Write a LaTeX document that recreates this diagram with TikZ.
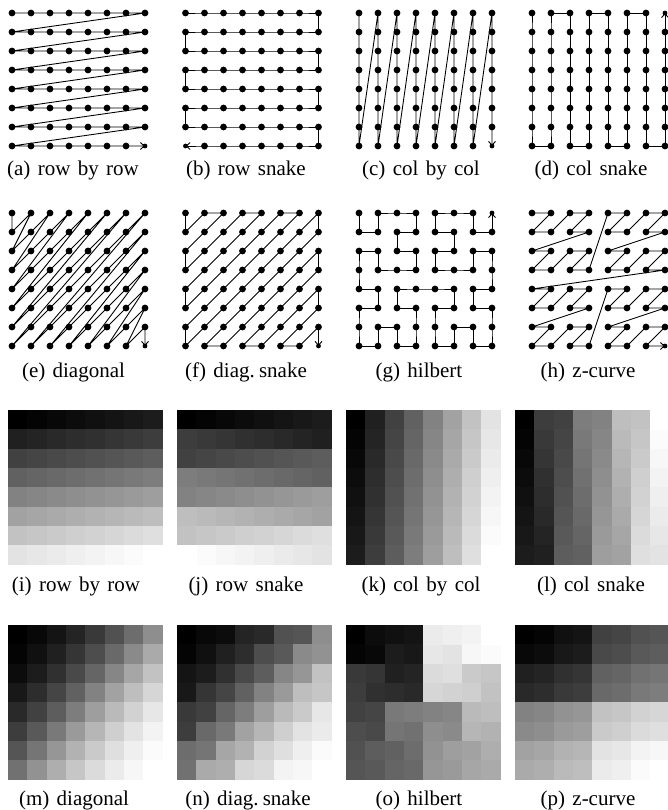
\documentclass[tikz,border=0pt]{standalone}
\usepackage{fontspec}
\setmainfont{Liberation Serif}
\newfontfamily\capfont[WordSpace=1.4]{Liberation Serif}
\usepackage{tikz}
\usetikzlibrary{arrows.meta}
% position of cell number \n in each ordering -> \cx, \cy
\newcommand{\posrow}{\pgfmathtruncatemacro\cx{mod(\n,8)}\pgfmathtruncatemacro\cy{\n/8}}
\newcommand{\posrowsnake}{\pgfmathtruncatemacro\cy{\n/8}%
  \pgfmathtruncatemacro\cx{(mod(\cy,2)==0) ? mod(\n,8) : 7-mod(\n,8)}}
\newcommand{\poscol}{\pgfmathtruncatemacro\cy{mod(\n,8)}\pgfmathtruncatemacro\cx{\n/8}}
\newcommand{\poscolsnake}{\pgfmathtruncatemacro\cx{\n/8}%
  \pgfmathtruncatemacro\cy{(mod(\cx,2)==0) ? mod(\n,8) : 7-mod(\n,8)}}
\newcommand{\diagkp}{% second half is the first one turned round
  \pgfmathtruncatemacro\diage{(\n<36) ? \n : 63-\n}%
  \pgfmathtruncatemacro\diagk{(sqrt(8*\diage+1)-1)/2+0.01}%
  \pgfmathtruncatemacro\diagp{\diage-\diagk*(\diagk+1)/2}}
\newcommand{\posdiag}{\diagkp
  \pgfmathtruncatemacro\cx{(\n<36) ? \diagp : 7-\diagp}%
  \pgfmathtruncatemacro\cy{(\n<36) ? \diagk-\diagp : 7-\diagk+\diagp}}
\newcommand{\posdiagsnake}{\diagkp
  \pgfmathtruncatemacro\sx{(mod(\diagk,2)==1) ? \diagp : \diagk-\diagp}%
  \pgfmathtruncatemacro\sy{\diagk-\sx}%
  \pgfmathtruncatemacro\cx{(\n<36) ? \sx : 7-\sx}%
  \pgfmathtruncatemacro\cy{(\n<36) ? \sy : 7-\sy}}
\def\hilbx{{0,0,1,1,2,3,3,2,2,3,3,2,1,1,0,0,
  0,1,1,0,0,0,1,1,2,2,3,3,3,2,2,3,
  4,5,5,4,4,4,5,5,6,6,7,7,7,6,6,7,
  7,7,6,6,5,4,4,5,5,4,4,5,6,6,7,7}}
\def\hilby{{0,1,1,0,0,0,1,1,2,2,3,3,3,2,2,3,
  4,4,5,5,6,7,7,6,6,7,7,6,5,5,4,4,
  4,4,5,5,6,7,7,6,6,7,7,6,5,5,4,4,
  3,2,2,3,3,3,2,2,1,1,0,0,0,1,1,0}}
\newcommand{\poshilbert}{\pgfmathtruncatemacro\cx{\hilbx[\n]}\pgfmathtruncatemacro\cy{\hilby[\n]}}
\newcommand{\poszcurve}{%
  \pgfmathtruncatemacro\cx{mod(\n,2)+2*mod(int(\n/4),2)+4*mod(int(\n/16),2)}%
  \pgfmathtruncatemacro\cy{mod(int(\n/2),2)+2*mod(int(\n/8),2)+4*int(\n/32)}}
\newcommand{\sfcgrid}[4]{% #1 name, #2 left, #3 top, #4 ordering
  \foreach \n in {0,...,63}{#4\coordinate (#1-\n) at (#2+19*\cx,#3+19*\cy);}
  \foreach \n in {0,...,62}{\fill (#1-\n) circle (3.4pt);}
  \fill (#1-63) circle (2.4pt);
  \draw[sfcline] (#1-0) \foreach \n in {1,...,63}{-- (#1-\n)};
}
\newcommand{\sfcmap}[3]{% #1 left, #2 top, #3 ordering
  \foreach \n in {0,...,63}{#3\pgfmathsetmacro\shade{100*\n/63}
    \fill[white!\shade!black] (#1+19.3*\cx,#2+19.3*\cy) rectangle +(19.5,19.5);}
}

\begin{document}
\begin{tikzpicture}[x=1pt,y=-1pt,
    sfcline/.style={line width=0.9pt,-{Straight Barb[length=4pt,width=7pt]}},
    subcap/.style={anchor=base,font=\capfont\fontsize{21}{26}\selectfont}]
  \path[use as bounding box,fill=white] (0,0) rectangle (668,810);
  % curves through the 8x8 grid
  \sfcgrid{a}{12}{13}{\posrow}
  \sfcgrid{b}{185.5}{13}{\posrowsnake}
  \sfcgrid{c}{359}{13}{\poscol}
  \sfcgrid{d}{532}{13}{\poscolsnake}
  \sfcgrid{e}{12}{213}{\posdiag}
  \sfcgrid{f}{185.5}{213}{\posdiagsnake}
  \sfcgrid{g}{359}{213}{\poshilbert}
  \sfcgrid{h}{532}{213}{\poszcurve}
  \node[subcap] (capa) at (73,176) {(a) row by row};
  \node[subcap] (capb) at (246,176) {(b) row snake};
  \node[subcap] (capc) at (421,176) {(c) col by col};
  \node[subcap] (capd) at (591,176) {(d) col snake};
  \node[subcap] (cape) at (73.5,377) {(e) diagonal};
  \node[subcap] (capf) at (246,377) {(f) diag.\hspace{0.2em}snake};
  \node[subcap] (capg) at (419,377) {(g) hilbert};
  \node[subcap] (caph) at (588,377) {(h) z-curve};
  % index of each cell as grey level
  \sfcmap{8}{410}{\posrow}
  \sfcmap{177}{410}{\posrowsnake}
  \sfcmap{346}{410}{\poscol}
  \sfcmap{515}{410}{\poscolsnake}
  \sfcmap{8}{625}{\posdiag}
  \sfcmap{177}{625}{\posdiagsnake}
  \sfcmap{346}{625}{\poshilbert}
  \sfcmap{515}{625}{\poszcurve}
  \node[subcap] (capi) at (76,591) {(i) row by row};
  \node[subcap] (capj) at (246,591) {(j) row snake};
  \node[subcap] (capk) at (421,591) {(k) col by col};
  \node[subcap] (capl) at (591,591) {(l) col snake};
  \node[subcap] (capm) at (74,805) {(m) diagonal};
  \node[subcap] (capn) at (248,805) {(n) diag.\hspace{0.2em}snake};
  \node[subcap] (capo) at (419,805) {(o) hilbert};
  \node[subcap] (capp) at (588,805) {(p) z-curve};
\end{tikzpicture}
\end{document}
